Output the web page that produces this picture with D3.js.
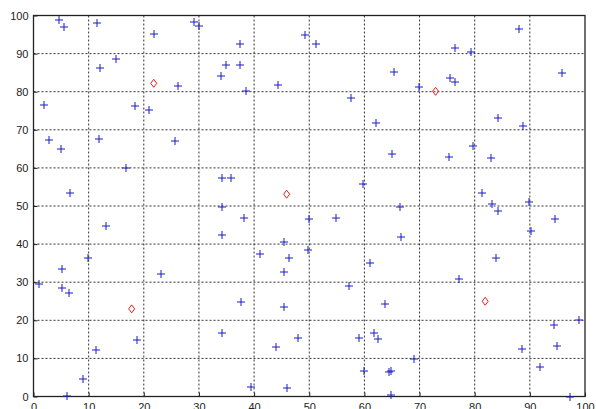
<!DOCTYPE html>
<html>
<head>
<meta charset="utf-8">
<script src="https://cdn.jsdelivr.net/npm/d3@7"></script>
<style>
  body { margin: 0; background: #fff; }
  .tick text { font-family: "Liberation Sans", Arial, sans-serif; font-size: 11px; fill: #222; }
</style>
</head>
<body>
<div id="plot"></div>
<script>
// blue "+" points
var plusX = [4.5, 5.4, 11.4, 21.8, 29.1, 30.0, 37.3, 49.2, 51.2, 14.8, 11.9, 26.1, 1.8, 18.3, 20.9,
  2.75, 11.7, 25.6, 4.9, 16.6, 6.6, 34.9, 37.3, 33.9, 65.2, 38.4, 44.2, 57.5, 62.1, 65.0,
  34.0, 35.8, 59.7, 34.1, 66.4, 88.0, 76.4, 79.3, 95.7, 75.5, 76.4, 69.9, 84.1, 88.6, 79.6,
  75.3, 82.8, 81.3, 83.1, 84.1, 89.7, 13.1, 9.75, 5.0, 23.0, 0.9, 5.0, 6.4, 18.6, 11.2,
  8.8, 6.0, 38.0, 49.9, 54.7, 34.0, 66.5, 45.3, 41.0, 49.6, 46.2, 61.0, 45.3, 57.1, 37.5,
  45.4, 63.7, 34.1, 47.9, 58.9, 61.7, 62.3, 43.8, 59.9, 64.4, 64.8, 39.3, 45.9, 64.8, 94.4,
  90.1, 83.8, 77.1, 98.8, 94.3, 94.9, 88.4, 68.9, 91.8, 97.1];
var plusY = [98.9, 97.0, 98.1, 95.3, 98.5, 97.3, 92.6, 94.9, 92.6, 88.7, 86.3, 81.5, 76.6, 76.4, 75.2,
  67.5, 67.6, 67.2, 65.2, 60.2, 53.5, 87.2, 87.2, 84.3, 85.3, 80.4, 81.9, 78.5, 71.8, 63.8,
  57.5, 57.5, 55.9, 49.8, 49.8, 96.6, 91.7, 90.5, 85.1, 83.6, 82.7, 81.3, 73.1, 71.2, 65.8,
  62.9, 62.6, 53.5, 50.6, 48.7, 51.1, 44.9, 36.5, 33.7, 32.2, 29.7, 28.5, 27.4, 15.0, 12.4,
  4.6, 0.3, 46.9, 46.6, 46.9, 42.5, 42.1, 40.6, 37.6, 38.6, 36.5, 35.2, 32.7, 29.2, 25.0,
  23.7, 24.4, 16.7, 15.5, 15.4, 16.7, 15.2, 13.1, 6.7, 6.6, 6.9, 2.5, 2.3, 0.4, 46.8,
  43.7, 36.4, 31.1, 20.3, 19.0, 13.4, 12.7, 10.0, 7.8, 0.1];
// red diamond points
var diamondX = [21.8, 45.9, 72.9, 17.8, 81.9];
var diamondY = [82.2, 53.1, 80.1, 23.0, 25.0];
var ticks = [0, 10, 20, 30, 40, 50, 60, 70, 80, 90, 100];

var margin = { left: 33.5, right: 11, top: 15.5, bottom: 12.5 };
var W = 596, H = 409;
var w = W - margin.left - margin.right;
var h = H - margin.top - margin.bottom;

var x = d3.scaleLinear().domain([0, 100]).range([0, w]);
var y = d3.scaleLinear().domain([0, 100]).range([h, 0]);

var svg = d3.select("#plot").append("svg")
  .attr("width", W)
  .attr("height", H)
  .append("g")
  .attr("transform", "translate(" + margin.left + "," + margin.top + ")");

// grid
svg.selectAll(".gx").data(ticks.slice(1, -1)).enter().append("line")
  .attr("x1", function(d) { return x(d); }).attr("x2", function(d) { return x(d); })
  .attr("y1", 0).attr("y2", h)
  .attr("stroke", "#333").attr("stroke-width", 1).attr("stroke-dasharray", "2,2");
svg.selectAll(".gy").data(ticks.slice(1, -1)).enter().append("line")
  .attr("y1", function(d) { return y(d); }).attr("y2", function(d) { return y(d); })
  .attr("x1", 0).attr("x2", w)
  .attr("stroke", "#333").attr("stroke-width", 1).attr("stroke-dasharray", "2,2");

// axes
svg.append("g").attr("transform", "translate(0," + h + ")")
  .call(d3.axisBottom(x).tickValues(ticks).tickSize(-4).tickPadding(7));
svg.append("g")
  .call(d3.axisLeft(y).tickValues(ticks).tickSize(-4).tickPadding(5));
svg.selectAll(".domain").remove();
svg.selectAll(".tick line").attr("stroke", "#222");

svg.append("rect").attr("x", 0).attr("y", 0).attr("width", w).attr("height", h)
  .attr("fill", "none").attr("stroke", "#222").attr("stroke-width", 1.3);

// snap to pixel centres so thin markers stay crisp
function px(v) { return Math.round(v) + 0.5; }

// blue pluses
var plusData = plusX.map(function(v, i) { return [v, plusY[i]]; });
svg.selectAll(".plus").data(plusData).enter().append("path")
  .attr("class", "plus")
  .attr("d", function(d) {
    var cx = px(x(d[0])), cy = px(y(d[1])), s = 4;
    return "M" + (cx - s) + "," + cy + "H" + (cx + s) + "M" + cx + "," + (cy - s) + "V" + (cy + s);
  })
  .attr("stroke", "#1a1ac8").attr("stroke-width", 1).attr("fill", "none");

// red diamonds
var diaData = diamondX.map(function(v, i) { return [v, diamondY[i]]; });
svg.selectAll(".dia").data(diaData).enter().append("path")
  .attr("class", "dia")
  .attr("d", function(d) {
    var cx = x(d[0]), cy = y(d[1]);
    return "M" + cx + "," + (cy - 4) + "L" + (cx + 3) + "," + cy + "L" + cx + "," + (cy + 4) + "L" + (cx - 3) + "," + cy + "Z";
  })
  .attr("stroke", "#e02020").attr("stroke-width", 1).attr("fill", "none");
</script>
</body>
</html>
